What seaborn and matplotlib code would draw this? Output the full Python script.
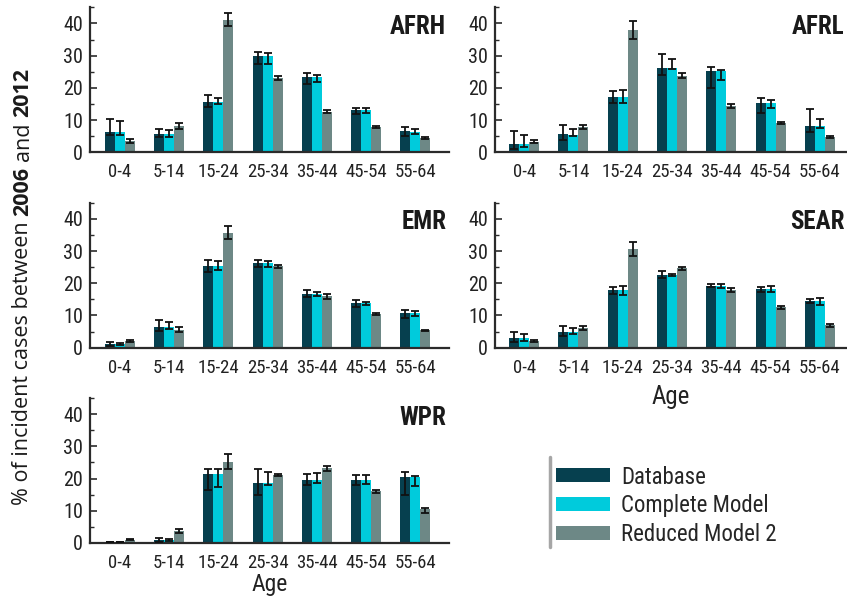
import matplotlib
matplotlib.use("Agg")
import matplotlib.pyplot as plt
from matplotlib.patches import Patch
from matplotlib.lines import Line2D
from matplotlib.ticker import MultipleLocator
from matplotlib import font_manager
import numpy as np
import pandas as pd
import seaborn as sns

# ---- data -------------------------------------------------------------
ages = ["0-4", "5-14", "15-24", "25-34", "35-44", "45-54", "55-64"]
series = ["Database", "Complete Model", "Reduced Model 2"]
regions = ["AFRH", "AFRL", "EMR", "SEAR", "WPR"]

# AFRH
afrh_db = [6.3, 5.8, 15.7, 29.8, 23.3, 13.1, 6.7]
afrh_db_lo = [5.5, 4.8, 14.0, 27.5, 21.3, 12.0, 5.1]
afrh_db_hi = [10.3, 7.2, 17.8, 31.1, 24.6, 13.8, 7.8]
afrh_cm = [6.3, 5.8, 15.7, 29.8, 23.3, 13.1, 6.4]
afrh_cm_lo = [5.5, 4.8, 15.0, 27.3, 21.8, 12.1, 5.7]
afrh_cm_hi = [9.6, 6.8, 16.8, 30.9, 24.0, 13.8, 7.2]
afrh_rm = [3.5, 8.2, 41.0, 23.0, 12.6, 7.9, 4.3]
afrh_rm_lo = [2.8, 7.3, 39.1, 22.3, 12.1, 7.5, 4.0]
afrh_rm_hi = [4.0, 9.2, 43.1, 23.8, 13.1, 8.3, 4.6]

# AFRL
afrl_db = [2.6, 5.7, 17.3, 26.3, 25.2, 15.3, 8.2]
afrl_db_lo = [0.9, 3.8, 15.3, 23.9, 20.0, 12.2, 6.4]
afrl_db_hi = [6.7, 8.6, 18.9, 30.5, 26.6, 16.8, 13.5]
afrl_cm = [2.6, 5.4, 17.3, 26.3, 25.2, 15.3, 8.2]
afrl_cm_lo = [1.75, 5.0, 15.3, 25.9, 22.3, 13.8, 7.5]
afrl_cm_hi = [5.3, 7.1, 19.3, 28.9, 25.5, 16.1, 10.4]
afrl_rm = [3.3, 7.9, 37.9, 23.8, 14.5, 9.2, 4.7]
afrl_rm_lo = [2.8, 7.3, 35.3, 23.2, 13.7, 8.7, 4.4]
afrl_rm_hi = [3.8, 8.4, 40.7, 24.5, 15.0, 9.5, 5.0]

# EMR
emr_db = [1.1, 6.5, 25.3, 26.3, 16.7, 13.9, 10.7]
emr_db_lo = [0.6, 5.3, 23.4, 24.9, 15.7, 12.6, 9.1]
emr_db_hi = [1.65, 8.5, 27.3, 27.1, 17.8, 14.7, 11.6]
emr_cm = [1.1, 6.5, 25.3, 26.3, 16.7, 13.9, 10.7]
emr_cm_lo = [0.8, 5.9, 24.1, 25.2, 16.0, 13.2, 9.9]
emr_cm_hi = [1.4, 7.9, 26.8, 26.9, 17.3, 14.2, 11.3]
emr_rm = [2.2, 5.6, 35.7, 25.3, 16.0, 10.4, 5.4]
emr_rm_lo = [1.8, 5.0, 33.8, 24.8, 15.2, 10.0, 5.1]
emr_rm_hi = [2.5, 6.4, 37.9, 25.7, 16.6, 10.7, 5.6]

# SEAR
sear_db = [3.1, 5.0, 17.9, 22.5, 19.3, 18.2, 14.6]
sear_db_lo = [1.9, 3.7, 16.8, 21.5, 18.7, 17.4, 13.9]
sear_db_hi = [4.8, 6.7, 18.7, 23.9, 19.8, 18.8, 15.1]
sear_cm = [3.1, 5.0, 17.9, 22.5, 19.3, 18.2, 14.4]
sear_cm_lo = [2.2, 4.1, 16.5, 22.1, 18.6, 17.3, 13.4]
sear_cm_hi = [4.3, 6.1, 19.0, 22.8, 19.9, 19.0, 15.3]
sear_rm = [2.2, 6.2, 30.6, 24.6, 18.0, 12.5, 6.9]
sear_rm_lo = [1.7, 5.6, 28.5, 24.1, 17.3, 12.0, 6.5]
sear_rm_hi = [2.5, 6.8, 32.7, 24.9, 18.5, 12.9, 7.3]

# WPR
wpr_db = [0.3, 0.9, 21.4, 18.6, 19.6, 19.6, 20.4]
wpr_db_lo = [0.2, 0.4, 16.4, 14.8, 18.0, 18.0, 14.9]
wpr_db_hi = [0.4, 1.6, 22.9, 23.0, 21.3, 21.2, 22.1]
wpr_cm = [0.3, 0.9, 21.4, 18.6, 19.6, 19.6, 20.4]
wpr_cm_lo = [0.2, 0.7, 17.3, 17.9, 18.7, 18.2, 17.7]
wpr_cm_hi = [0.4, 1.1, 23.0, 22.1, 21.7, 21.2, 20.9]
wpr_rm = [1.0, 3.6, 25.2, 21.1, 23.3, 16.0, 10.4]
wpr_rm_lo = [0.8, 3.1, 23.0, 20.8, 22.4, 15.5, 9.4]
wpr_rm_hi = [1.2, 4.2, 27.5, 21.3, 23.9, 16.6, 10.9]

values = {
    "AFRH": [(afrh_db, afrh_db_lo, afrh_db_hi), (afrh_cm, afrh_cm_lo, afrh_cm_hi), (afrh_rm, afrh_rm_lo, afrh_rm_hi)],
    "AFRL": [(afrl_db, afrl_db_lo, afrl_db_hi), (afrl_cm, afrl_cm_lo, afrl_cm_hi), (afrl_rm, afrl_rm_lo, afrl_rm_hi)],
    "EMR": [(emr_db, emr_db_lo, emr_db_hi), (emr_cm, emr_cm_lo, emr_cm_hi), (emr_rm, emr_rm_lo, emr_rm_hi)],
    "SEAR": [(sear_db, sear_db_lo, sear_db_hi), (sear_cm, sear_cm_lo, sear_cm_hi), (sear_rm, sear_rm_lo, sear_rm_hi)],
    "WPR": [(wpr_db, wpr_db_lo, wpr_db_hi), (wpr_cm, wpr_cm_lo, wpr_cm_hi), (wpr_rm, wpr_rm_lo, wpr_rm_hi)],
}

rows = []
for reg in regions:
    for s, (val, lo, hi) in zip(series, values[reg]):
        for a, v, l, h in zip(ages, val, lo, hi):
            rows.append(dict(region=reg, age=a, series=s, value=v, lo=l, hi=h))
df = pd.DataFrame(rows)

colors = ["#06404f", "#00cbdc", "#6d8886"]
palette = dict(zip(series, colors))

# ---- styling ----------------------------------------------------------
sns.set_style("ticks")
installed = {f.name for f in font_manager.fontManager.ttflist}
narrow_pref = ["Liberation Sans Narrow", "DejaVu Sans Condensed", "Roboto Condensed",
               "Open Sans Condensed", "Liberation Sans", "DejaVu Sans"]
narrow = [f for f in narrow_pref if f in installed][:1] + ["DejaVu Sans"]
plt.rcParams["font.family"] = narrow
plt.rcParams["axes.edgecolor"] = "#2b2b2b"
plt.rcParams["axes.linewidth"] = 1.6

W, H = 847, 602
fig = plt.figure(figsize=(W / 100, H / 100), dpi=100)

# axes rectangles in pixels: left, y of zero line from top, width, x range
ax_h = 145
layout = {
    "AFRH": (90, 152.3, 359, (-0.61, 6.69)),
    "AFRL": (495, 152.3, 352, (-0.59, 6.55)),
    "EMR": (90, 347.7, 359, (-0.61, 6.69)),
    "SEAR": (495, 347.7, 352, (-0.59, 6.55)),
    "WPR": (90, 543.0, 359, (-0.61, 6.69)),
}

for reg in regions:
    left, zero_y, width, xlim = layout[reg]
    ax = fig.add_axes([left / W, 1 - zero_y / H, width / W, ax_h / H])
    sub = df[df.region == reg]
    sns.barplot(data=sub, x="age", y="value", hue="series", hue_order=series,
                order=ages, palette=palette, width=0.61, gap=0, saturation=1,
                errorbar=None, legend=False, ax=ax, linewidth=0)

    # asymmetric error bars on every bar
    for s, cont in zip(series, ax.containers):
        ss = sub[sub.series == s].set_index("age").loc[ages]
        xs = [p.get_x() + p.get_width() / 2 for p in cont.patches]
        v = ss["value"].to_numpy()
        yerr = np.vstack([v - ss["lo"].to_numpy(), ss["hi"].to_numpy() - v])
        ax.errorbar(xs, v, yerr=yerr, fmt="none", ecolor="#111111",
                    elinewidth=1.3, capsize=3.2, capthick=1.3, zorder=5)

    ax.set_xlim(*xlim)
    ax.set_ylim(0, 45)
    ax.yaxis.set_major_locator(MultipleLocator(10))
    ax.yaxis.set_minor_locator(MultipleLocator(5))
    ax.tick_params(axis="y", which="major", direction="in", length=5, width=1.2,
                   pad=5, labelsize=14.5, colors="#2b2b2b", labelcolor="#222222")
    ax.tick_params(axis="y", which="minor", direction="in", length=3, width=1.0,
                   colors="#2b2b2b")
    ax.tick_params(axis="x", length=0, pad=8, labelsize=13.5, labelcolor="#222222")
    sns.despine(ax=ax)
    ax.set_ylabel("")
    if reg == "SEAR":
        ax.set_xlabel("Age", fontsize=18, labelpad=6, color="#222222")
    elif reg == "WPR":
        ax.set_xlabel("Age", fontsize=17, labelpad=1, color="#222222")
    else:
        ax.set_xlabel("")
    ax.text(0.992, 0.865, reg, transform=ax.transAxes, ha="right", va="center",
            fontsize=18, fontweight="bold", color="#1a1a1a")

# ---- y label with bold years, built piece by piece ----------------------
renderer = fig.canvas.get_renderer()
pieces = [("% of incident cases between", "normal"), ("2006", "bold"),
          ("and", "normal"), ("2012", "bold")]
ylab_size = 15.5
gap_px = 0.26 * ylab_size * 100 / 72
y_px = H - 505  # bottom of the label in display pixels
for txt, wt in pieces:
    t = fig.text(23 / W, y_px / H, txt, rotation=90, ha="center", va="bottom",
                 fontsize=ylab_size, fontweight=wt, color="#1a1a1a",
                 family=["Open Sans", "DejaVu Sans"])
    bb = t.get_window_extent(renderer=renderer)
    y_px += bb.height + gap_px

# ---- legend -----------------------------------------------------------
handles = [Patch(facecolor=c, edgecolor="none", label=s) for s, c in zip(series, colors)]
fig.legend(handles=handles, loc="upper left",
           bbox_to_anchor=(556 / W, 1 - 465.5 / H), frameon=False,
           fontsize=16.5, handlelength=2.35, handleheight=0.55,
           handletextpad=0.5, labelspacing=0.25, borderpad=0, borderaxespad=0)
fig.add_artist(Line2D([550 / W, 550 / W], [1 - 457 / H, 1 - 547 / H],
                      color="#a6a6a6", lw=2.5, transform=fig.transFigure))

fig.savefig("out.png", dpi=100)
